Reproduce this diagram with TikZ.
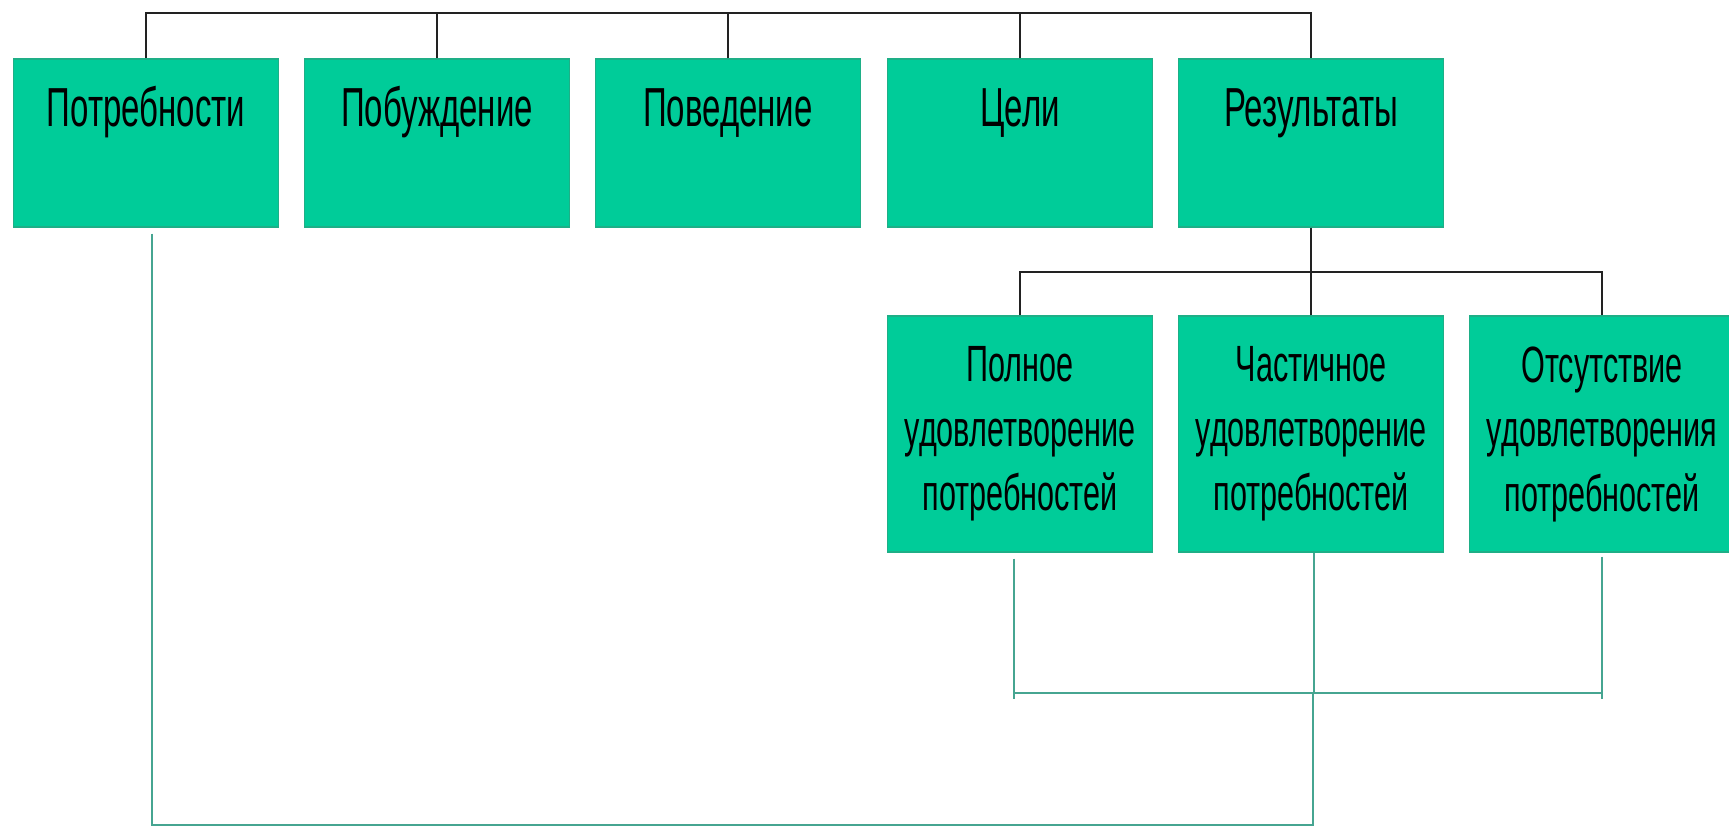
\documentclass[tikz,border=0pt]{standalone}
\usepackage{fontspec}
\newfontfamily\condfont[FakeStretch=0.6]{Liberation Sans}
\definecolor{boxfill}{RGB}{0,204,153}
\definecolor{boxedge}{RGB}{30,175,135}
\definecolor{tealline}{RGB}{70,165,145}
\definecolor{darkline}{RGB}{34,34,34}
\tikzset{
  box/.style={rectangle, fill=boxfill, draw=boxedge, line width=1.2pt, inner sep=0pt,
              minimum width=265pt},
  topbox/.style={box, minimum height=168pt},
  botbox/.style={box, minimum height=236pt},
  toptext/.style={anchor=base, inner sep=0pt, font=\condfont\fontsize{55}{66}\selectfont, text=black},
  bottext/.style={align=center, inner sep=0pt, font=\condfont\fontsize{51}{64.5}\selectfont, text=black},
  blackconn/.style={draw=darkline, line width=1.8pt},
  tealconn/.style={draw=tealline, line width=2.4pt}
}
\begin{document}
\begin{tikzpicture}[x=1pt,y=-1pt]
\useasboundingbox (0,0) rectangle (1729,829);
\clip (0,0) rectangle (1729,829);
\fill[white] (0,0) rectangle (1729,829);

% top row boxes
\node[topbox] (b1) at (146,143) {};
\node[topbox] (b2) at (437,143) {};
\node[topbox] (b3) at (728,143) {};
\node[topbox] (b4) at (1020,143) {};
\node[topbox] (b5) at (1311,143) {};

\node[toptext] (t1) at ([yshift=-68pt]b1.north) {Потребности};
\node[toptext] (t2) at ([yshift=-68pt]b2.north) {Побуждение};
\node[toptext] (t3) at ([yshift=-68pt]b3.north) {Поведение};
\node[toptext] (t4) at ([yshift=-68pt]b4.north) {Цели};
\node[toptext] (t5) at ([yshift=-68pt]b5.north) {Результаты};

% bottom row boxes
\node[botbox] (c1) at (1020,434) {};
\node[botbox] (c2) at (1311,434) {};
\node[botbox] (c3) at (1602,434) {};

\node[bottext] (u1) at (c1) {Полное\\удовлетворение\\потребностей};
\node[bottext] (u2) at (c2) {Частичное\\удовлетворение\\потребностей};
\node[bottext] (u3) at (c3) {Отсутствие\\удовлетворения\\потребностей};

% top bus
\coordinate (topL) at (146,13);
\coordinate (topR) at (1311,13);
\draw[blackconn] (b1.north) -- (b1.north |- topL) -- (b5.north |- topR) -- (b5.north);
\foreach \b in {b2,b3,b4} \draw[blackconn] (\b.north) -- (\b.north |- topL);

% results bus
\coordinate (resbus) at (1311,272);
\draw[blackconn] (b5.south) -- (b5.south |- resbus);
\draw[blackconn] (c1.north) -- (c1.north |- resbus) -- (c3.north |- resbus) -- (c3.north);
\draw[blackconn] (c2.north) -- (c2.north |- resbus);

% teal feedback lines
\coordinate (fbY) at (0,693);
\coordinate (fbT) at (0,699);
\coordinate (bottomY) at (0,825);
\coordinate (pdrop) at ([xshift=6pt,yshift=-6pt]b1.south);
\coordinate (c2drop) at ([xshift=3pt]c2.south);
\draw[tealconn] ([xshift=-6pt,yshift=-6pt]c1.south) -- ([xshift=-6pt]c1.south |- fbT);
\draw[tealconn] ([yshift=-4pt]c3.south) -- (c3.south |- fbT);
\draw[tealconn] ([xshift=-6pt]c1.south |- fbY) -- (c3.south |- fbY);
\draw[tealconn] (c2drop) -- (c2drop |- fbY);
\draw[tealconn] (pdrop) -- (pdrop |- bottomY) -- ([xshift=2pt]c2.south |- bottomY) -- ([xshift=2pt]c2.south |- fbY);
\end{tikzpicture}
\end{document}
